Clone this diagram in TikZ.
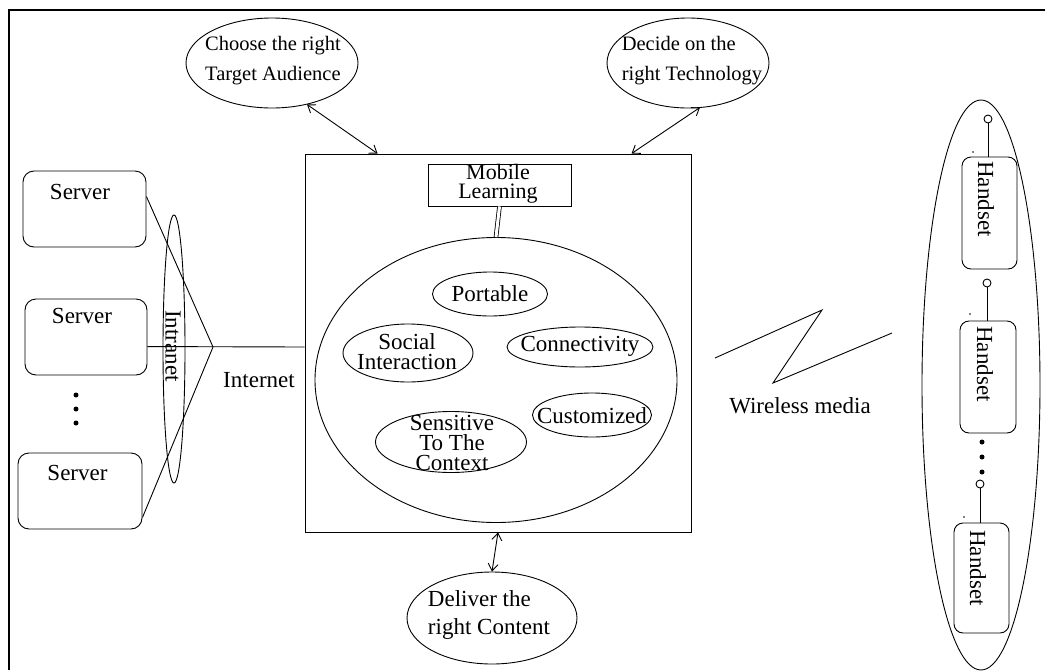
\documentclass[tikz,border=0pt]{standalone}
\usepackage{fontspec}
\setmainfont{Liberation Serif}
\usetikzlibrary{shapes.geometric,arrows.meta,calc}
\begin{document}
\begin{tikzpicture}[x=1pt,y=-1pt,
  txt/.style={font=\fontsize{23}{20}\selectfont, inner sep=0pt, align=center},
  ell/.style={draw, ellipse, inner sep=0pt, line width=0.9pt},
  srv/.style={draw, rounded corners=11pt, line width=0.9pt, inner sep=0pt},
  hand/.style={draw, rounded corners=9pt, line width=0.9pt, inner sep=0pt},
  conn/.style={line width=0.9pt},
  biarrow/.style={line width=0.9pt, {Straight Barb[length=7pt,width=10pt]}-{Straight Barb[length=7pt,width=10pt]}},
  bigdot/.style={fill=black, circle, inner sep=0pt, minimum size=5pt},
  tinydot/.style={fill=black, circle, inner sep=0pt, minimum size=1.8pt},
  ring/.style={draw, circle, inner sep=0pt, minimum size=8pt, line width=0.9pt, fill=white}
]
\useasboundingbox (0,0) rectangle (1045,670);
% frame
\draw[line width=2pt] (9,670) -- (9,10) -- (1045,10);

% servers
\node[srv, minimum width=123pt, minimum height=76pt] (s1) at (84.5,209) {};
\node[txt] (s1t) at (80,192) {Server};
\node[srv, minimum width=122pt, minimum height=76pt] (s2) at (86,337) {};
\node[txt] (s2t) at (82,316) {Server};
\node[srv, minimum width=124pt, minimum height=76pt] (s3) at (80,491) {};
\node[txt] (s3t) at (77.5,473) {Server};
\node[bigdot] (d1) at (76,395) {};
\node[bigdot] (d2) at (76,409) {};
\node[bigdot] (d3) at (76,423) {};

% intranet
\node[ell, minimum width=22pt, minimum height=268pt] (intra) at (174,349) {};
\node[txt, rotate=-90] (intrat) at (173,346) {Intranet};

% main box
\node[draw, line width=0.9pt, minimum width=386pt, minimum height=378pt, inner sep=0pt] (main) at (498,343) {};
\node[draw, line width=0.9pt, minimum width=143pt, minimum height=42pt, inner sep=0pt] (ml) at (499.5,185) {};
\node[txt, font=\fontsize{22}{19}\selectfont] (mlt) at (498,184) {Mobile\\Learning};
\node[ell, minimum width=362pt, minimum height=285pt] (big) at (496,380) {};
\draw[line width=0.8pt, double, double distance=3pt] (ml.south) -- (big.north);

\node[ell, minimum width=115pt, minimum height=44pt] (port) at (490,294) {};
\node[txt] (portt) at (490,294) {Portable};
\node[ell, minimum width=130pt, minimum height=58pt] (soc) at (408,353) {};
\node[txt] (soct) at (407,352) {Social\\Interaction};
\node[ell, minimum width=146pt, minimum height=40pt] (con) at (580,347) {};
\node[txt] (cont) at (580,346) {Connectivity};
\node[ell, minimum width=119pt, minimum height=44pt] (cus) at (592,415) {};
\node[txt] (cust) at (592,416) {Customized};
\node[ell, minimum width=151pt, minimum height=61pt] (sen) at (451,442) {};
\node[txt] (sent) at (452,443) {Sensitive\\To The\\Context};

% top / bottom ellipses
\node[ell, minimum width=172pt, minimum height=90pt] (choose) at (272,63) {};
\node[txt, align=left, font=\fontsize{20.5}{30}\selectfont] (chooset) at (273,61) {Choose the right\\Target Audience};
\node[ell, minimum width=162pt, minimum height=90pt] (decide) at (688,63) {};
\node[txt, align=left, font=\fontsize{20.5}{30}\selectfont] (decidet) at (692,61) {Decide on the\\right Technology};
\node[ell, minimum width=170pt, minimum height=92pt] (deliver) at (492,618) {};
\node[txt, align=left, font=\fontsize{23}{28}\selectfont] (delivert) at (489,615) {Deliver the\\right Content};

\draw[biarrow] ($(choose.south)+(35,-4)$) -- ($(main.north west)+(73,0)$);
\draw[biarrow] ($(decide.south)+(12,-1)$) -- ($(main.north west)+(327,0)$);
\draw[biarrow] (main.south) -- (deliver.north);

% internet connections
\coordinate (apex) at (213,347);
\draw[conn] ($(s1.north east)+(0,26)$) -- (apex) -- ($(s3.north east)+(0,65)$);
\draw[conn] ($(s2.north east)+(0,48)$) -- (main.west |- apex);
\node[txt] (inet) at (259,380) {Internet};

% wireless
\coordinate (w1) at (715,358);
\coordinate (w2) at (822,310);
\coordinate (w3) at (773,383);
\coordinate (w4) at (892,333);
\draw[conn] (w1) -- (w2) -- (w3) -- (w4);
\node[txt] (wl) at (800,406) {Wireless media};

% handsets
\node[ell, minimum width=118pt, minimum height=570pt] (hs) at (981,385) {};
\node[hand, minimum width=55pt, minimum height=112pt] (h1) at (989.5,213) {};
\node[hand, minimum width=56pt, minimum height=112pt] (h2) at (988,377) {};
\node[hand, minimum width=55pt, minimum height=110pt] (h3) at (981.5,578) {};
\node[txt, rotate=-90] (h1t) at (986,199) {Handset};
\node[txt, rotate=-90] (h2t) at (985,364) {Handset};
\node[txt, rotate=-90] (h3t) at (978,568) {Handset};
\node[ring] (r1) at (988,119) {};
\node[ring] (r2) at (987,283) {};
\node[ring] (r3) at (980,484) {};
\draw[conn] (r1) -- (r1 |- h1.north);
\draw[conn] (r2) -- (r2 |- h2.north);
\draw[conn] (r3) -- (r3 |- h3.north);
\node[tinydot] (t1) at (973,152) {};
\node[tinydot] (t2) at (970,314) {};
\node[tinydot] (t3) at (964,517) {};
\node[bigdot] (e1) at (982,442) {};
\node[bigdot] (e2) at (982,457) {};
\node[bigdot] (e3) at (982,472) {};
\end{tikzpicture}
\end{document}
